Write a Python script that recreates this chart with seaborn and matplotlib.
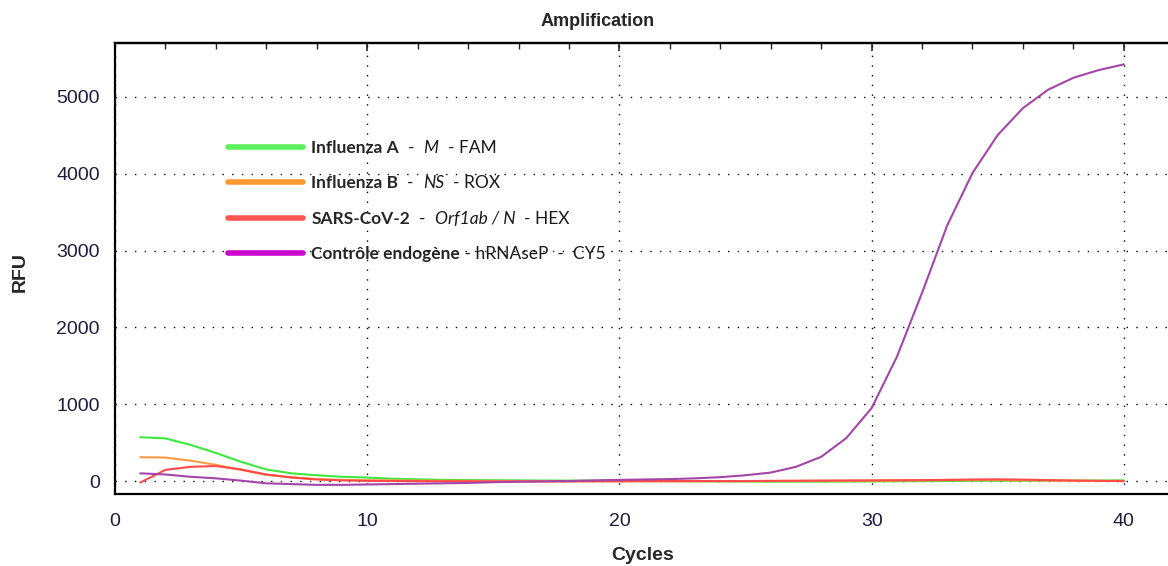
import numpy as np
import pandas as pd
import matplotlib
matplotlib.use("Agg")
import matplotlib.pyplot as plt
from matplotlib.lines import Line2D
from matplotlib.ticker import MultipleLocator
import seaborn as sns


# Data (RFU per cycle)
cycles = list(range(1, 41))

fam_influenza_a = [570, 555, 470, 365, 250, 150, 100, 75, 55, 45,
                   30, 22, 15, 12, 10, 8, 6, 5, 5, 5,
                   3, 0, -3, -5, -6, -8, -8, -8, -6, -5,
                   -3, -2, 0, 2, 3, 4, 5, 5, 6, 8]
rox_influenza_b = [310, 305, 265, 210, 145, 80, 50, 25, 15, 10,
                   8, 5, 3, 2, 0, 0, -2, -3, -4, -4,
                   -5, -5, -4, -3, -2, 0, 2, 3, 4, 5,
                   6, 8, 10, 12, 12, 10, 6, 3, 0, -2]
hex_sars_cov2 = [-20, 145, 185, 195, 150, 85, 45, 20, 8, 2,
                 0, -2, -3, -4, -5, -5, -5, -4, -3, -2,
                 0, 0, 0, 0, 0, 2, 3, 5, 6, 8,
                 10, 12, 15, 20, 22, 18, 12, 6, 3, 0]
cy5_controle = [100, 85, 55, 35, 5, -30, -40, -50, -50, -45,
                -40, -35, -30, -25, -15, -10, -5, 0, 8, 15,
                20, 25, 35, 50, 75, 110, 185, 315, 560, 950,
                1615, 2450, 3330, 4010, 4505, 4855, 5095, 5250, 5350, 5425]

series_names = ["Influenza A", "Influenza B", "SARS-CoV-2", "Contrôle endogène"]
line_colors = ["#3ee83e", "#ff9a45", "#ff4a4a", "#a445a8"]
legend_colors = ["#5cf05c", "#ff9933", "#ff5555", "#cc00cc"]

# rest of each legend entry: (text, style)
legend_suffix = [
    [("  -  ", "normal"), ("M", "italic"), ("  - FAM", "normal")],
    [("  -  ", "normal"), ("NS", "italic"), ("  - ROX", "normal")],
    [("  -  ", "normal"), ("Orf1ab / N", "italic"), ("  - HEX", "normal")],
    [(" - hRNAseP  -  CY5", "normal")],
]

W, H = 1168, 566

df = pd.DataFrame({
    "Cycle": cycles * 4,
    "RFU": fam_influenza_a + rox_influenza_b + hex_sars_cov2 + cy5_controle,
    "Cible": np.repeat(series_names, len(cycles)),
})

sns.set_style("white")
plt.rcParams["font.family"] = ["Liberation Sans", "DejaVu Sans"]

fig = plt.figure(figsize=(W / 100, H / 100), dpi=100)
ax = fig.add_axes([115 / W, 72 / H, 1053 / W, 451 / H])

sns.lineplot(data=df, x="Cycle", y="RFU", hue="Cible", hue_order=series_names,
             palette=line_colors, linewidth=1.5, legend=False, ax=ax)

ax.set_xlim(0, 1053 / 25.22)
ax.set_ylim(-169, 5703)
ax.xaxis.set_major_locator(MultipleLocator(10))
ax.xaxis.set_minor_locator(MultipleLocator(2))
ax.yaxis.set_major_locator(MultipleLocator(1000))
ax.yaxis.set_minor_locator(MultipleLocator(200))
ax.grid(True, which="major", color="black", linestyle=(0, (1, 6)), linewidth=1.0)

for side in ["left", "bottom", "top"]:
    ax.spines[side].set_visible(True)
    ax.spines[side].set_color("black")
    ax.spines[side].set_linewidth(1.6)
ax.spines["right"].set_visible(False)

ax.tick_params(axis="both", which="major", direction="inout", length=10, width=1.3,
               color="black", labelsize=14, labelcolor="#1c1c3c")
ax.tick_params(axis="both", which="minor", direction="inout", length=6, width=1.1, color="black")
ax.tick_params(axis="x", which="major", pad=9)
ax.tick_params(axis="y", which="major", pad=6)
ax.set_xlabel("")
ax.set_ylabel("")

top = ax.secondary_xaxis("top")
top.xaxis.set_major_locator(MultipleLocator(10))
top.xaxis.set_minor_locator(MultipleLocator(2))
top.tick_params(which="major", direction="in", length=6, width=1.2, labeltop=False)
top.tick_params(which="minor", direction="in", length=4, width=1.0)
top.spines["top"].set_linewidth(1.6)

fig.text(598 / W, 1 - 21 / H, "Amplification", ha="center", va="center",
         fontsize=13, fontweight="bold")
fig.text(20 / W, 1 - 272 / H, "RFU", ha="center", va="center", rotation=90,
         fontsize=14, fontweight="bold")
fig.text(643 / W, 1 - 556 / H, "Cycles", ha="center", va="center",
         fontsize=14, fontweight="bold")

handles = [Line2D([], [], color=c, linewidth=4) for c in legend_colors]
leg = ax.legend(handles, series_names, loc="upper left",
                bbox_to_anchor=(228 / W, 1 - 140 / H), bbox_transform=fig.transFigure,
                frameon=False, handlelength=4.3, handletextpad=0.5, labelspacing=1.12,
                borderpad=0, borderaxespad=0,
                prop={"family": "Lato", "weight": "bold", "size": 12.5})

# place the rest of each label (italic gene names etc.) right after the legend text
fig.canvas.draw()
renderer = fig.canvas.get_renderer()
for txt, parts in zip(leg.get_texts(), legend_suffix):
    bb = txt.get_window_extent(renderer)
    x, y = bb.x1, bb.y0
    for s, style in parts:
        t = fig.text(x / W, y / H, s, va="bottom", ha="left", family="Lato",
                     style=style, fontsize=12.5, color="#1a1a1a")
        x = t.get_window_extent(renderer).x1

fig.savefig("out.png", dpi=100)
